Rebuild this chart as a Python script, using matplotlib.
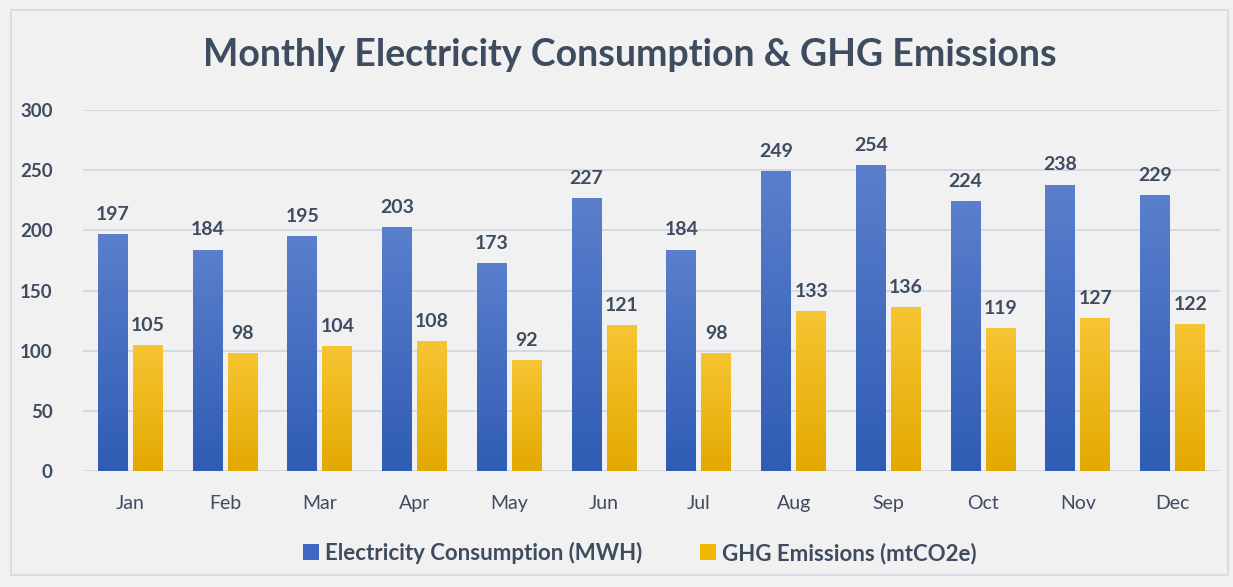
import matplotlib
matplotlib.use("Agg")
import matplotlib.pyplot as plt
import numpy as np
from matplotlib.patches import Rectangle, Patch
from matplotlib.colors import LinearSegmentedColormap

months = ["Jan", "Feb", "Mar", "Apr", "May", "Jun", "Jul", "Aug", "Sep", "Oct", "Nov", "Dec"]
electricity = [197, 184, 195, 203, 173, 227, 184, 249, 254, 224, 238, 229]
ghg = [105, 98, 104, 108, 92, 121, 98, 133, 136, 119, 127, 122]
yticks = [0, 50, 100, 150, 200, 250, 300]

plt.rcParams['font.family'] = ['Lato', 'DejaVu Sans']
txt = '#3e4c60'

fig = plt.figure(figsize=(12.33, 5.87), dpi=100)
fig.patch.set_facecolor('#f1f1f1')
W, H = 1233, 587
fig.add_artist(Rectangle((11 / W, 1 - 575 / H), (1228 - 11) / W, (575 - 10) / H,
                         transform=fig.transFigure, fill=False, edgecolor='#d3d9e2', lw=1.2))

ax = fig.add_axes([83 / W, 1 - 471 / H, (1220 - 83) / W, (471 - 110) / H])
ax.set_facecolor('none')
x = np.arange(len(months))
bw = 0.316
off = 0.185
b1 = ax.bar(x - off, electricity, bw, color='#3d67c0', zorder=3)
b2 = ax.bar(x + off, ghg, bw, color='#f0b800', zorder=3)

blue_cm = LinearSegmentedColormap.from_list('b', ['#2f5cb4', '#5a7fcc'])
gold_cm = LinearSegmentedColormap.from_list('g', ['#e3a900', '#f7c533'])
grad = np.linspace(0, 1, 256).reshape(-1, 1)
for bars, cm in ((b1, blue_cm), (b2, gold_cm)):
    for r in bars:
        x0, y0, w, h = r.get_x(), r.get_y(), r.get_width(), r.get_height()
        im = ax.imshow(grad, cmap=cm, aspect='auto', origin='lower',
                       extent=(x0, x0 + w, y0, y0 + h), zorder=3.5)
        im.set_clip_path(r)

ax.set_xlim(-0.5, len(months) - 0.5)
ax.set_ylim(0, 300)
ax.set_yticks(yticks)
ax.yaxis.grid(True, color='#d0d6df', lw=1.2, zorder=0)
ax.set_axisbelow(True)
for s in ax.spines.values():
    s.set_visible(False)
ax.tick_params(length=0)
ax.set_xticks(x)
ax.set_xticklabels(months, fontsize=14, color=txt)
ax.tick_params(axis='x', pad=17)
ax.tick_params(axis='y', pad=22)
for lab in ax.get_yticklabels():
    lab.set_fontsize(13.5)
    lab.set_fontweight('bold')
    lab.set_color(txt)

for bars, vals in ((b1, electricity), (b2, ghg)):
    for r, v in zip(bars, vals):
        ax.annotate(str(v), (r.get_x() + r.get_width() / 2, v), xytext=(0, 8),
                    textcoords='offset points', ha='center', va='bottom',
                    fontsize=14, fontweight='bold', color=txt, zorder=5)

fig.text(630 / W, 1 - 55 / H, "Monthly Electricity Consumption & GHG Emissions",
         ha='center', va='center', fontsize=27, fontweight='bold', color=txt)

handles = [Patch(facecolor='#3d67c0'), Patch(facecolor='#f0b800')]
leg = fig.legend(handles, ["Electricity Consumption (MWH)", "GHG Emissions (mtCO2e)"],
                 loc='center', bbox_to_anchor=(640 / W, 1 - 553 / H), ncol=2, frameon=False,
                 prop={'size': 16, 'weight': 'bold'}, handlelength=0.7, handleheight=0.7,
                 handletextpad=0.3, columnspacing=2.6, labelcolor=txt)

fig.savefig('out.png', dpi=100, facecolor=fig.get_facecolor())
